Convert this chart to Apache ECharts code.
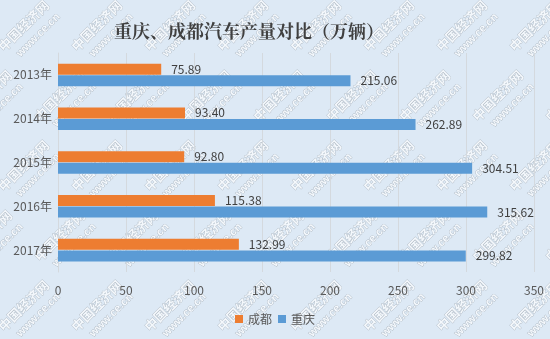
<!DOCTYPE html>
<html>
<head>
<meta charset="utf-8">
<script src="https://cdn.jsdelivr.net/npm/echarts@6/dist/echarts.min.js"></script>
<style>
html,body{margin:0;padding:0;background:#dde9f5;}
#chart{width:550px;height:339px;}
</style>
</head>
<body>
<div id="chart"></div>
<script>
// Car output of Chongqing vs Chengdu, 10k vehicles
const years = ['2013年', '2014年', '2015年', '2016年', '2017年'];
const chengdu = [75.89, 93.40, 92.80, 115.38, 132.99];
const chongqing = [215.06, 262.89, 304.51, 315.62, 299.82];
const xTicks = [0, 50, 100, 150, 200, 250, 300, 350];

const textColor = '#404040';
const font = '"Microsoft YaHei","Noto Sans CJK SC",sans-serif';

// Diagonal site watermark tiled over the whole canvas
const watermark = [];
const wmStyle = { fontWeight: 'bold', fill: '#f4f8fc', stroke: '#aab4be', lineWidth: 0.7 };
for (let row = 0; row < 6; row++) {
  for (let col = -1; col < 9; col++) {
    const cx = col * 73 + (row % 2) * 36 + 30;
    const cy = row * 70 + 30;
    watermark.push({
      type: 'group',
      x: cx, y: cy,
      rotation: Math.PI / 4,
      children: [
        { type: 'text', x: -34, y: -14, style: Object.assign({ text: '中国经济网', fontSize: 13, fontFamily: '"Noto Sans CJK SC",sans-serif' }, wmStyle) },
        { type: 'text', x: -26, y: 4, style: Object.assign({ text: 'www.ce.cn', fontSize: 11, fontFamily: 'Arial,sans-serif' }, wmStyle) }
      ]
    });
  }
}

const chart = echarts.init(document.getElementById('chart'));
chart.setOption({
  backgroundColor: '#dde9f5',
  animation: false,
  title: {
    text: '重庆、成都汽车产量对比（万辆）',
    left: 109,
    top: 17,
    textStyle: { fontSize: 18, fontWeight: 'bold', color: '#404040', fontFamily: '"Noto Serif CJK SC","Noto Sans CJK SC",serif' }
  },
  legend: {
    bottom: 9,
    left: 'center',
    itemWidth: 8,
    itemHeight: 8,
    itemGap: 6,
    icon: 'rect',
    textStyle: { fontSize: 12, color: '#595959', fontFamily: font }
  },
  grid: { left: 58, right: 16, top: 53, bottom: 67 },
  xAxis: {
    type: 'value',
    min: xTicks[0],
    max: xTicks[xTicks.length - 1],
    interval: 50,
    axisLine: { show: false },
    axisTick: { show: false },
    axisLabel: { color: '#595959', fontSize: 12, margin: 12, fontFamily: font },
    splitLine: { lineStyle: { color: '#d4d9de', width: 1 } }
  },
  yAxis: {
    type: 'category',
    data: years,
    inverse: true,
    axisLine: { show: true, lineStyle: { color: '#d4d9de' } },
    axisTick: { show: false },
    axisLabel: { color: '#595959', fontSize: 12, margin: 6, fontFamily: font }
  },
  graphic: {
    elements: [{ type: 'group', z: 100, silent: true, children: watermark }]
  },
  series: [
    {
      name: '成都',
      type: 'bar',
      data: chengdu,
      barWidth: 11,
      barGap: '5%',
      itemStyle: { color: '#ed7d31' },
      label: { show: true, position: 'right', distance: 10, color: textColor, fontSize: 12, fontFamily: font, formatter: p => p.value.toFixed(2) }
    },
    {
      name: '重庆',
      type: 'bar',
      data: chongqing,
      barWidth: 11,
      itemStyle: { color: '#5b9bd5' },
      label: { show: true, position: 'right', distance: 10, color: textColor, fontSize: 12, fontFamily: font, formatter: p => p.value.toFixed(2) }
    }
  ]
});
</script>
</body>
</html>
